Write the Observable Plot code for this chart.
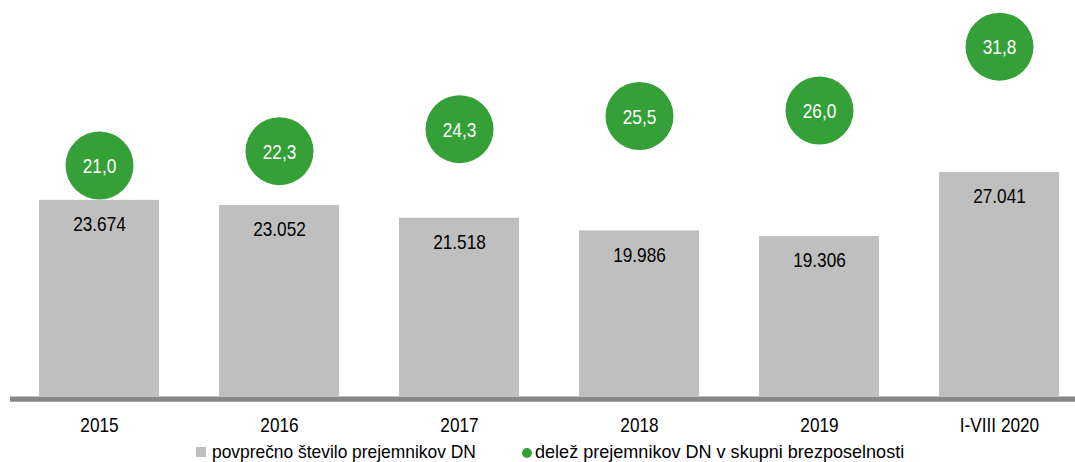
<!DOCTYPE html>
<html>
<head>
<meta charset="utf-8">
<script src="https://cdn.jsdelivr.net/npm/d3@7"></script>
<script src="https://cdn.jsdelivr.net/npm/@observablehq/plot@0.6"></script>
<style>
  html, body { margin: 0; padding: 0; background: #fff; }
  #chart { width: 1075px; height: 437px; }
  .legend { position: relative; width: 1075px; height: 25px; font-family: "Liberation Sans", Arial, sans-serif; font-size: 19px; color: #000; }
  .legend span { position: absolute; top: 1.5px; white-space: nowrap; line-height: 25px; transform-origin: 0 50%; }
  .sw { position: absolute; }
</style>
</head>
<body>
<div id="chart"></div>
<script>
const years = ["2015", "2016", "2017", "2018", "2019", "I-VIII 2020"];
const recipients = [23674, 23052, 21518, 19986, 19306, 27041];
const shares = [21.0, 22.3, 24.3, 25.5, 26.0, 31.8];
const seriesNames = ["povprečno število prejemnikov DN", "delež prejemnikov DN v skupni brezposelnosti"];

const BAR_MAX = 47800;   // left-axis top
const SHARE_MAX = 36;    // right-axis top
const k = BAR_MAX / SHARE_MAX;

const data = years.map((y, i) => ({year: y, count: recipients[i], share: shares[i]}));
const FONT = '"Liberation Sans", Arial, sans-serif';
const GREEN = "#35a037";
const GREY = "#bfbfbf";
const NARROW = 0.82;

const fmtCount = d3.format(",d");
const fmtCountSl = v => fmtCount(v).replace(/,/g, ".");
const fmtShare = v => v.toFixed(1).replace(".", ",");

const chart = Plot.plot({
  width: 1075,
  height: 437,
  marginTop: 0,
  marginLeft: 10,
  marginRight: 0,
  marginBottom: 41,
  style: {fontFamily: FONT, background: "#fff", color: "#000"},
  x: {domain: years, range: [9, 1089], paddingInner: 1/3, paddingOuter: 1/6, axis: null},
  y: {domain: [0, BAR_MAX], range: [396, 0], axis: null},
  marks: [
    Plot.barY(data, {x: "year", y: "count", fill: GREY}),
    Plot.ruleY([0], {stroke: "#878787", strokeWidth: 5.3, dy: 2.6}),
    Plot.text(data, {x: "year", y: "count", text: d => fmtCountSl(d.count), dy: 24, fontSize: 21, fill: "#000"}),
    Plot.dot(data, {x: "year", y: d => d.share * k, r: 34, fill: GREEN, stroke: "none"}),
    Plot.text(data, {x: "year", y: d => d.share * k, text: d => fmtShare(d.share), dy: 1, fontSize: 21, fill: "#fff"}),
    Plot.axisX({domain: years, tickSize: 0, tickPadding: 21, fontSize: 21, fill: "#000", label: null})
  ]
});

// narrow the text horizontally (condensed face look), keeping each label's anchor
chart.querySelectorAll("text").forEach(el => {
  const t = el.getAttribute("transform") || "";
  const X = parseFloat(el.getAttribute("x")) || 0;
  el.setAttribute("transform", `${t} translate(${X},0) scale(${NARROW},1) translate(${-X},0)`);
});
document.getElementById("chart").appendChild(chart);

const legend = document.createElement("div");
legend.className = "legend";
legend.innerHTML = `
  <div class="sw" style="left:196px;top:9.7px;width:10px;height:10px;background:${GREY}"></div>
  <span style="left:211.5px;transform:scaleX(0.915)">${seriesNames[0]}</span>
  <div class="sw" style="left:521.7px;top:10.7px;width:10px;height:10px;border-radius:50%;background:${GREEN}"></div>
  <span style="left:535px;transform:scaleX(0.95)">${seriesNames[1]}</span>`;
document.body.appendChild(legend);
</script>
</body>
</html>
